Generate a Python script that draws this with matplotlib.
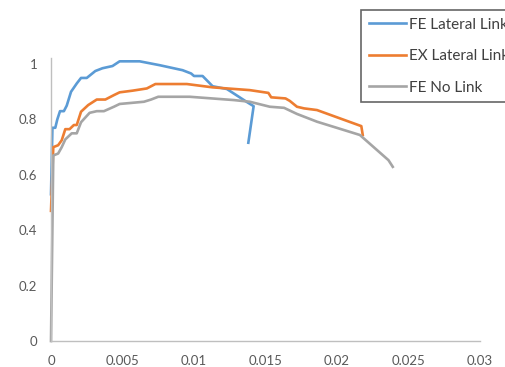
import matplotlib.pyplot as plt

# strain vs. normalised load for the three models
fe_lat_x = [0, 0.0001, 0.0003, 0.00044, 0.00063, 0.0009, 0.0011, 0.0014, 0.0018, 0.0021,
            0.0025, 0.0031, 0.0036, 0.0043, 0.0048, 0.0062, 0.0076, 0.0092, 0.0098, 0.0100,
            0.0106, 0.0110, 0.0113, 0.0123, 0.0137, 0.01417, 0.0138]
fe_lat_y = [0.53, 0.77, 0.77, 0.80, 0.83, 0.83, 0.85, 0.90, 0.93, 0.95,
            0.95, 0.975, 0.985, 0.993, 1.01, 1.01, 0.996, 0.978, 0.966, 0.957,
            0.957, 0.936, 0.92, 0.91, 0.863, 0.848, 0.716]

ex_lat_x = [0, 0.00016, 0.0005, 0.00075, 0.001, 0.0013, 0.0016, 0.0018, 0.0021, 0.0026,
            0.0032, 0.0038, 0.0044, 0.0048, 0.0057, 0.0067, 0.0073, 0.0095, 0.0113, 0.0139,
            0.0152, 0.0154, 0.0164, 0.0167, 0.0172, 0.0177, 0.0186, 0.0217, 0.0218]
ex_lat_y = [0.47, 0.70, 0.707, 0.725, 0.765, 0.765, 0.78, 0.78, 0.828, 0.852,
            0.872, 0.872, 0.888, 0.898, 0.904, 0.912, 0.928, 0.928, 0.916, 0.906,
            0.896, 0.88, 0.876, 0.867, 0.846, 0.84, 0.834, 0.776, 0.744]

fe_no_x = [0, 0.00016, 0.0005, 0.00075, 0.001, 0.00145, 0.0018, 0.0021, 0.0027, 0.0032,
           0.0037, 0.0044, 0.0048, 0.0065, 0.007, 0.0075, 0.0097, 0.0128, 0.0139, 0.0153,
           0.0163, 0.0172, 0.0186, 0.0216, 0.0236, 0.0239]
fe_no_y = [0, 0.67, 0.677, 0.70, 0.728, 0.75, 0.75, 0.79, 0.824, 0.83,
           0.83, 0.846, 0.856, 0.864, 0.872, 0.882, 0.882, 0.87, 0.864, 0.846,
           0.842, 0.82, 0.792, 0.744, 0.653, 0.629]

x_ticks = [0, 0.005, 0.01, 0.015, 0.02, 0.025, 0.03]
x_labels = ['0', '0.005', '0.01', '0.015', '0.02', '0.025', '0.03']
y_ticks = [0, 0.2, 0.4, 0.6, 0.8, 1]
y_labels = ['0', '0.2', '0.4', '0.6', '0.8', '1']

plt.rcParams['font.family'] = ['Lato', 'DejaVu Sans']

fig = plt.figure(figsize=(5.05, 3.67), dpi=100)
ax = fig.add_axes([51 / 505, 26 / 367, 429 / 505, 283 / 367])

ax.plot(fe_lat_x, fe_lat_y, color='#5B9BD5', lw=1.9, label='FE Lateral Link', clip_on=False)
ax.plot(ex_lat_x, ex_lat_y, color='#ED7D31', lw=1.9, label='EX Lateral Link', clip_on=False)
ax.plot(fe_no_x, fe_no_y, color='#A5A5A5', lw=1.9, label='FE No Link', clip_on=False)

ax.set_xlim(0, 0.03)
ax.set_ylim(0, 1.022)
ax.set_xticks(x_ticks)
ax.set_xticklabels(x_labels)
ax.set_yticks(y_ticks)
ax.set_yticklabels(y_labels)
ax.tick_params(length=0, labelsize=9.5, colors='#595959')
ax.tick_params(axis='x', pad=10)
ax.tick_params(axis='y', pad=10)

for side in ['top', 'right']:
    ax.spines[side].set_visible(False)
for side in ['left', 'bottom']:
    ax.spines[side].set_color('#BFBFBF')
    ax.spines[side].set_linewidth(1)

# legend box runs past the right edge of the figure
leg = fig.legend(loc='upper left', bbox_to_anchor=(361 / 505, 1 - 10 / 367),
                 frameon=True, fancybox=False, fontsize=11, handlelength=2.45,
                 handletextpad=0.2, labelspacing=1.15, borderpad=0.5,
                 borderaxespad=0, labelcolor='#404040')
leg.get_frame().set_edgecolor('#404040')
leg.get_frame().set_linewidth(1.2)

fig.savefig('out.png', dpi=100)
